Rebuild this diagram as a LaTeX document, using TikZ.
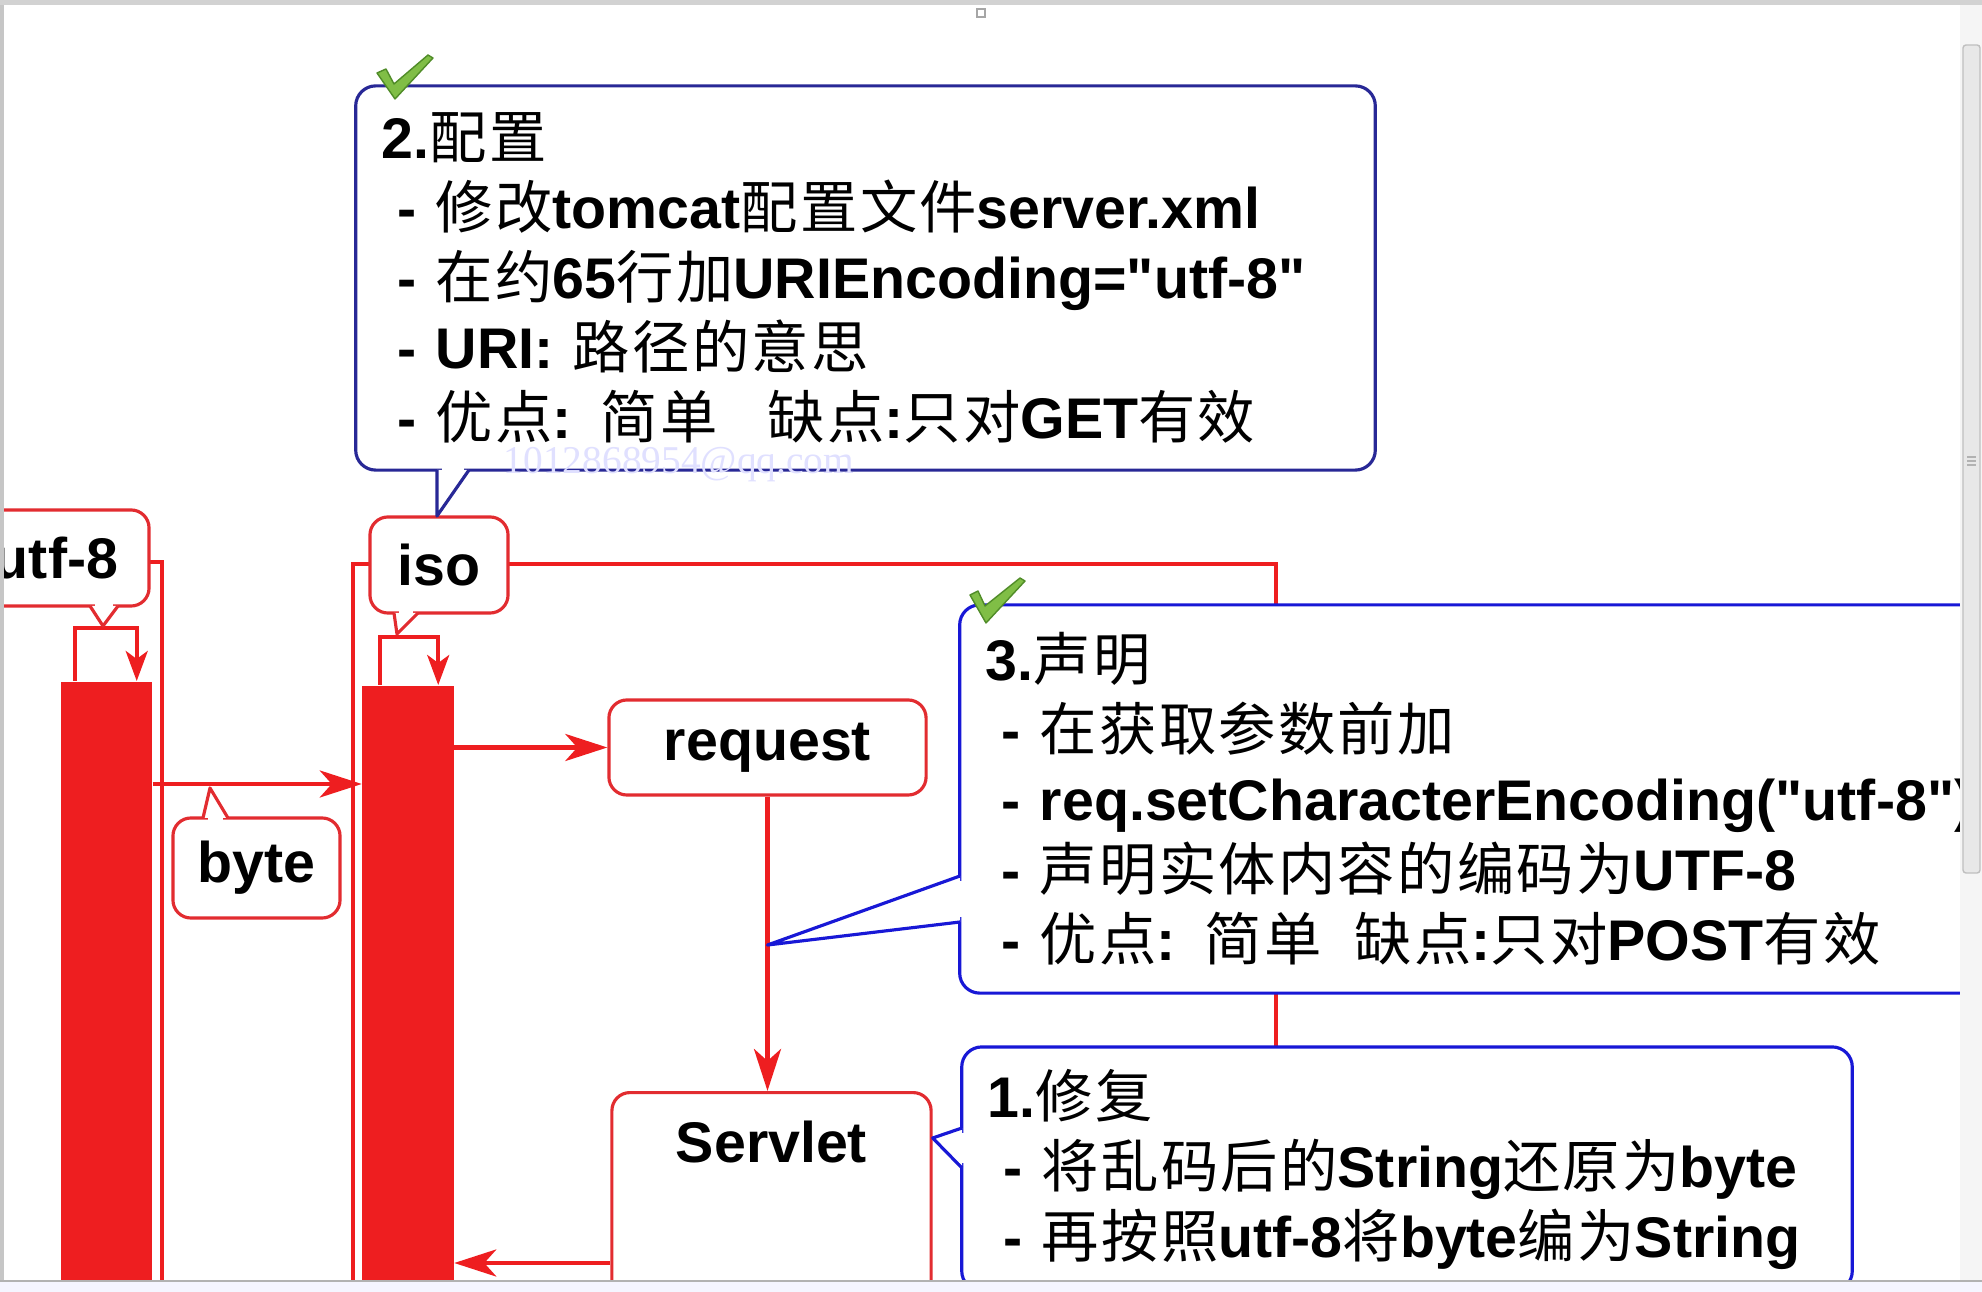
\documentclass[tikz,border=0pt]{standalone}
\usepackage{fontspec}
\setmainfont{Liberation Sans}[Ligatures=TeXOff]
\newfontfamily\cjk{Noto Sans CJK SC}[LetterSpace=4]
\newfontfamily\wmserif{Liberation Serif}
\usetikzlibrary{arrows.meta,positioning,calc}

\definecolor{seqred}{RGB}{238,30,32}
\definecolor{boxred}{RGB}{226,44,48}
\definecolor{navy}{RGB}{40,40,150}
\definecolor{noteblue}{RGB}{24,24,214}
\definecolor{tickgreen}{RGB}{128,190,70}
\definecolor{tickdark}{RGB}{80,140,40}

\newcommand{\zh}[1]{{\cjk\mdseries #1}}
\newcommand{\ind}{\hspace*{0.16cm}}

\begin{document}
\begin{tikzpicture}[x=0.01cm, y=-0.01cm,
    txt/.style={font=\fontsize{16.3}{19.9}\selectfont\bfseries},
    redbox/.style={rectangle, draw=boxred, fill=white, line width=0.9pt, rounded corners=0.18cm, txt, inner sep=0pt},
    note/.style={rectangle, draw=#1, fill=white, line width=0.9pt, rounded corners=0.2cm, txt, align=left, inner xsep=0.26cm, inner ysep=0pt},
    bar/.style={rectangle, fill=seqred, minimum width=0.91cm, minimum height=7cm, inner sep=0pt},
    frame/.style={draw=seqred, line width=1.15pt},
    msg/.style={draw=seqred, line width=1.3pt, -{Stealth[length=0.42cm, width=0.27cm, inset=0.12cm]}},
    self/.style={draw=seqred, line width=1.1pt, -{Stealth[length=0.3cm, width=0.22cm, inset=0.08cm]}},
    ptr/.style={fill=white, draw=#1, line width=0.9pt, line join=round},
    gap/.style={draw=white, line width=1.8pt, shorten <=1.3pt, shorten >=1.3pt},
    tick/.style={fill=tickgreen, draw=tickdark, line width=0.4pt, line join=round}
]
\useasboundingbox (0,0) rectangle (1982,1292);
\fill[white] (0,0) rectangle (1982,1292);

% Frames of browser and server
\draw[frame] (-200,562) rectangle (162,1400);
\draw[frame] (353,564) rectangle (1276,1400);

% Activation bars
\node[bar, anchor=north] (browser) at (106.5,681) {};
\node[bar, anchor=north] (tomcat) at (408,685) {};
\draw[self] ([xshift=0.15cm]browser.north west) -- ++(0,-53) -| ([xshift=-0.16cm]browser.north east);
\draw[self] ([xshift=0.18cm]tomcat.north west) -- ++(0,-48) -| ([xshift=-0.16cm]tomcat.north east);

% Red labels
\node[redbox, minimum width=1.86cm, minimum height=0.96cm] (utf) at (56,558) {utf-8};
\node[redbox, minimum width=1.38cm, minimum height=0.96cm] (iso) at (439,565) {iso};
\node[redbox, minimum width=1.67cm, minimum height=1.0cm] (byte) at (256.5,868) {byte};
\node[redbox, minimum width=3.17cm, minimum height=0.95cm] (request) at (767.5,747.5) {request};
\node[redbox, minimum width=3.19cm, minimum height=3.2cm, anchor=north,
      label={[txt, inner sep=0pt, anchor=north, yshift=-0.29cm]north:Servlet}] (servlet) at (771.5,1091) {};

% Messages
\coordinate (bytelvl) at (0,784);
\coordinate (backlvl) at (0,1263);
\draw[msg] (browser.east |- bytelvl) -- (tomcat.west |- bytelvl);
\draw[msg] (tomcat.east |- request.west) -- (request.west);
\draw[msg] (request.south) -- (request.south |- servlet.north);
\draw[msg] (servlet.west |- backlvl) -- (tomcat.east |- backlvl);

% Pointers of red labels
\filldraw[ptr=boxred] (90,606) -- (103,626) -- (118,606);
\draw[gap] (90,606) -- (118,606);
\filldraw[ptr=boxred] (394,613) -- (397,634) -- (418,613);
\draw[gap] (394,613) -- (418,613);
\filldraw[ptr=boxred] (203,818) -- (210,788) -- (228,818);
\draw[gap] (203,818) -- (228,818);

% Notes
\node[note=navy, minimum width=10.19cm, minimum height=3.84cm, text width=9.67cm] (cfg) at (865.5,278) {
2.\zh{配置}\\
\ind- \zh{修改}tomcat\zh{配置文件}server.xml\\
\ind- \zh{在约}65\zh{行加}URIEncoding="utf-8"\\
\ind- URI: \zh{路径的意思}\\
\ind- \zh{优点}: \zh{简单}\hspace{0.5cm}\zh{缺点}:\zh{只对}GET\zh{有效}};
\filldraw[ptr=navy] (437,470) -- (437,516) -- (469,470);
\draw[gap] (437,470) -- (469,470);

\node[note=noteblue, minimum width=11cm, minimum height=3.88cm, text width=10.48cm] (decl) at (1510,799) {
3.\zh{声明}\\
\ind- \zh{在获取参数前加}\\
\ind- req.setCharacterEncoding("utf-8")\\
\ind- \zh{声明实体内容的编码为}UTF-8\\
\ind- \zh{优点}: \zh{简单}\hspace{0.33cm}\zh{缺点}:\zh{只对}POST\zh{有效}};
\coordinate (decltip) at (request.south |- 0,945);
\filldraw[ptr=noteblue] (960,876) -- (decltip) -- (960,922);
\draw[gap] (960,876) -- (960,922);

\node[note=noteblue, minimum width=8.9cm, minimum height=2.44cm, text width=8.38cm] (fix) at (1407,1169) {
1.\zh{修复}\\
\ind- \zh{将乱码后的}String\zh{还原为}byte\\
\ind- \zh{再按照}utf-8\zh{将}byte\zh{编为}String};
\filldraw[ptr=noteblue] (962,1128) -- (servlet.east |- 0,1138) -- (962,1168);
\draw[gap] (962,1128) -- (962,1168);

% Ticks
\filldraw[tick] (377,73) -- (386,69) -- (394,84) -- (428,55) -- (433,58) -- (395,99) -- cycle;
\filldraw[tick] (970,595) -- (978,591) -- (985,606) -- (1020,578) -- (1025,581) -- (986,623) -- cycle;

% Watermark
\node[font=\wmserif\fontsize{11.2}{12}\selectfont, text=blue!12] (wm) at (679,465) {1012868954@qq.com};

% Window edges
\fill[gray!35] (0,0) rectangle (1982,5);
\fill[gray!45] (0,5) rectangle (4,1292);
\draw[gray!70] (977,9) rectangle (985,17);
\fill[gray!8] (1960,5) rectangle (1982,1281);
\filldraw[draw=gray!50, fill=gray!18, rounded corners=0.03cm] (1963,45) rectangle (1980,873);
\draw[gray!60] (1967,457) -- (1976,457) (1967,461) -- (1976,461) (1967,465) -- (1976,465);
\fill[blue!4] (0,1281) rectangle (1982,1292);
\draw[gray!60] (0,1281) -- (1982,1281);
\end{tikzpicture}
\end{document}
